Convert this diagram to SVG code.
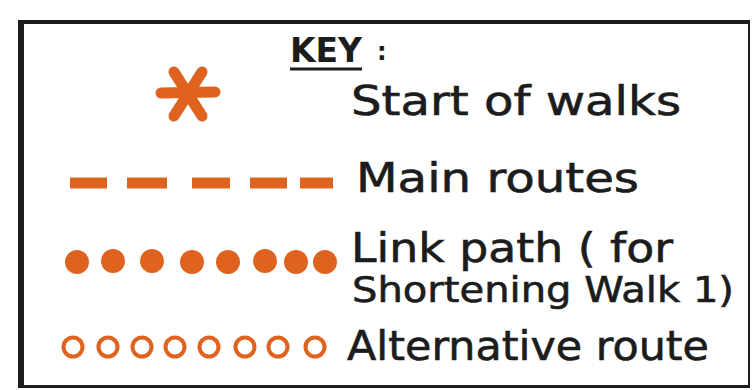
<svg xmlns="http://www.w3.org/2000/svg" width="753" height="390" viewBox="0 0 753 390">
<style>
.t{font-family:"DejaVu Sans","Liberation Sans",sans-serif;fill:#1c1c1c;font-size:40px;stroke:#1c1c1c;stroke-width:0.6}
.o{fill:#e0621f}
.ring{fill:none;stroke:#e0621f;stroke-width:4}
.dash{stroke:#e0621f;stroke-width:11;stroke-linecap:butt}
.ast{stroke:#e0621f;stroke-width:11;stroke-linecap:round}
</style>
<rect x="0" y="0" width="753" height="390" fill="#ffffff"/>
<g id="frame" fill="none" stroke="#1c1c1c">
<line x1="21" y1="21" x2="21" y2="387" stroke-width="6"/>
<line x1="18" y1="22" x2="750" y2="22" stroke-width="4"/>
<line x1="749" y1="20" x2="749" y2="387" stroke-width="2"/>
<line x1="18" y1="386.5" x2="750" y2="386.5" stroke-width="3"/>
</g>
<g id="title">
<text x="290" y="62" style="font-family:'DejaVu Sans','Liberation Sans',sans-serif;font-weight:bold;font-size:34px;fill:#1c1c1c" textLength="72" lengthAdjust="spacingAndGlyphs">KEY</text>
<line x1="290" y1="69" x2="362" y2="69" stroke="#1c1c1c" stroke-width="3"/>
<text x="377" y="60" style="font-family:'DejaVu Sans','Liberation Sans',sans-serif;font-weight:bold;font-size:24px;fill:#1c1c1c">:</text>
</g>
<g id="connectors"></g>
<g id="start">
<g class="ast">
<line x1="161" y1="93" x2="215" y2="92"/>
<line x1="174" y1="72" x2="202" y2="116"/>
<line x1="202" y1="72" x2="174" y2="116"/>
</g>
<text class="t" x="351" y="115" textLength="330" lengthAdjust="spacingAndGlyphs">Start of walks</text>
</g>
<g id="main">
<g class="dash">
<line x1="70" y1="183" x2="107" y2="183"/>
<line x1="127" y1="183" x2="167" y2="183"/>
<line x1="192" y1="183" x2="230" y2="183"/>
<line x1="250" y1="183" x2="287" y2="183"/>
<line x1="300" y1="183" x2="333" y2="183"/>
</g>
<text class="t" x="356" y="192" textLength="283" lengthAdjust="spacingAndGlyphs">Main routes</text>
</g>
<g id="link">
<g class="o">
<circle cx="77" cy="262" r="12"/>
<circle cx="113" cy="261" r="12"/>
<circle cx="152" cy="261" r="12"/>
<circle cx="192" cy="262" r="12"/>
<circle cx="228" cy="262" r="12"/>
<circle cx="265" cy="261" r="12"/>
<circle cx="296" cy="262" r="12"/>
<circle cx="325" cy="262" r="12"/>
</g>
<text class="t" x="351" y="262" textLength="322" lengthAdjust="spacingAndGlyphs">Link path ( for</text>
<text class="t" x="352" y="302" textLength="382" lengthAdjust="spacingAndGlyphs" style="font-size:35px">Shortening Walk 1)</text>
</g>
<g id="alternative">
<g class="ring">
<circle cx="73" cy="347" r="9.5"/>
<circle cx="108" cy="347" r="9.5"/>
<circle cx="142" cy="347" r="9.5"/>
<circle cx="175" cy="347" r="9.5"/>
<circle cx="209" cy="347" r="9.5"/>
<circle cx="245" cy="347" r="9.5"/>
<circle cx="278" cy="347" r="9.5"/>
<circle cx="315" cy="347" r="9.5"/>
</g>
<text class="t" x="347" y="360" textLength="362" lengthAdjust="spacingAndGlyphs">Alternative route</text>
</g>
</svg>
